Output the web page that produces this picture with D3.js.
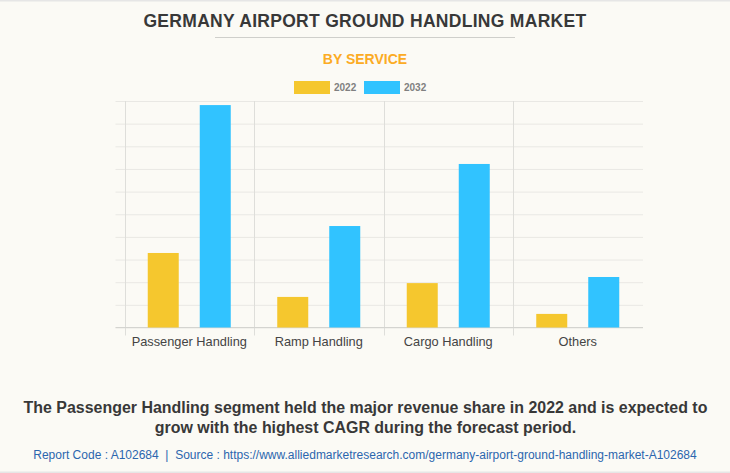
<!DOCTYPE html>
<html lang="en">
<head>
<meta charset="UTF-8">
<title>Germany Airport Ground Handling Market</title>
<script src="https://d3js.org/d3.v7.min.js"></script>
<style>
    html, body { margin: 0; padding: 0; background: #fbfaf5; overflow: hidden; }
    svg { display: block; font-family: "Liberation Sans", Arial, sans-serif; }
    .grid line { stroke: #e9e8e4; stroke-width: 1; }
    .grid path { display: none; }
    .cats path, .cats line { display: none; }
    .cats text { font-size: 12.8px; fill: #444; }
</style>
</head>
<body>
<div id="chart"></div>
<script>
    const categories = ["Passenger Handling", "Ramp Handling", "Cargo Handling", "Others"];
    const years = ["2022", "2032"];
    const values2022 = [3.29, 1.35, 1.96, 0.6];
    const values2032 = [9.82, 4.48, 7.22, 2.23];
    const yTicks = [0, 1, 2, 3, 4, 5, 6, 7, 8, 9, 10];
    const colors = ["#f5c72e", "#31c3ff"];

    const width = 730, height = 473;
    const plot = {left: 124.5, right: 642.5, top: 101, bottom: 327.5};

    const svg = d3.select("#chart").append("svg")
        .attr("width", width)
        .attr("height", height);

    // page edges
    svg.append("rect").attr("x", 0).attr("y", 0).attr("width", width).attr("height", 1.5).attr("fill", "#e6e6e6");
    svg.append("rect").attr("x", 0).attr("y", height - 1.5).attr("width", width).attr("height", 1.5).attr("fill", "#e6e6e6");

    svg.append("text")
        .attr("x", 365).attr("y", 27)
        .attr("text-anchor", "middle")
        .style("font-size", "17.5px").style("font-weight", "bold")
        .style("letter-spacing", "0.3px").style("fill", "#383838")
        .text("GERMANY AIRPORT GROUND HANDLING MARKET");

    svg.append("line")
        .attr("x1", 215).attr("x2", 515).attr("y1", 37.5).attr("y2", 37.5)
        .attr("stroke", "#cfcfcb");

    svg.append("text")
        .attr("x", 365).attr("y", 64)
        .attr("text-anchor", "middle")
        .style("font-size", "14px").style("font-weight", "bold")
        .style("fill", "#fbab24")
        .text("BY SERVICE");

    // legend
    const legend = svg.append("g").selectAll("g")
        .data(years)
        .enter().append("g")
        .attr("transform", (d, i) => `translate(${294 + i * 70},81)`);
    legend.append("rect")
        .attr("width", 36).attr("height", 13)
        .attr("fill", (d, i) => colors[i]);
    legend.append("text")
        .attr("x", 40).attr("y", 10)
        .style("font-size", "10px").style("font-weight", "bold").style("fill", "#808080")
        .text(d => d);

    const x0 = d3.scaleBand().domain(categories).range([plot.left, plot.right]);
    const x1 = d3.scaleBand().domain(years).range([0, x0.bandwidth()])
        .paddingInner(0.404).paddingOuter(0.447);
    const y = d3.scaleLinear().domain([0, 10]).range([plot.bottom, plot.top]);

    // horizontal grid
    svg.append("g")
        .attr("class", "grid")
        .attr("transform", `translate(${plot.left},0)`)
        .call(d3.axisLeft(y).tickValues(yTicks).tickFormat("").tickSize(-(plot.right - plot.left)).tickSizeOuter(0))
        .call(g => g.selectAll("line").attr("x1", -9).attr("x2", plot.right - plot.left + 0.5));

    // vertical separators between the groups
    svg.append("g").selectAll("line")
        .data(categories)
        .enter().append("line")
        .attr("x1", d => Math.round(x0(d)) + 0.5)
        .attr("x2", d => Math.round(x0(d)) + 0.5)
        .attr("y1", plot.top).attr("y2", plot.bottom + 8)
        .attr("stroke", "#dededa");

    svg.append("line")
        .attr("x1", plot.left - 9).attr("x2", plot.right + 0.5)
        .attr("y1", plot.bottom).attr("y2", plot.bottom)
        .attr("stroke", "#d4d4d0");

    const series = [values2022, values2032];
    const groups = svg.append("g").selectAll("g")
        .data(categories)
        .enter().append("g")
        .attr("transform", d => `translate(${x0(d)},0)`);
    groups.selectAll("rect")
        .data((d, i) => years.map((yr, k) => ({yr, k, value: series[k][i]})))
        .enter().append("rect")
        .attr("x", d => x1(d.yr))
        .attr("width", x1.bandwidth())
        .attr("y", d => y(d.value))
        .attr("height", d => y(0) - y(d.value))
        .attr("fill", d => colors[d.k]);

    svg.append("g")
        .attr("class", "cats")
        .attr("transform", `translate(0,${plot.bottom})`)
        .call(d3.axisBottom(x0).tickSize(0).tickPadding(9));

    const caption = ["The Passenger Handling segment held the major revenue share in 2022 and is expected to",
        "grow with the highest CAGR during the forecast period."];
    svg.append("g").selectAll("text")
        .data(caption)
        .enter().append("text")
        .attr("x", 365.5)
        .attr("y", (d, i) => 413 + i * 20)
        .attr("text-anchor", "middle")
        .style("font-size", "15.95px").style("font-weight", "bold").style("fill", "#383838")
        .text(d => d);

    svg.append("text")
        .attr("x", 365).attr("y", 459)
        .attr("text-anchor", "middle")
        .style("font-size", "12px").style("fill", "#2b66ae").style("white-space", "pre")
        .text("Report Code : A102684  |  Source : https://www.alliedmarketresearch.com/germany-airport-ground-handling-market-A102684");
</script>
</body>
</html>
